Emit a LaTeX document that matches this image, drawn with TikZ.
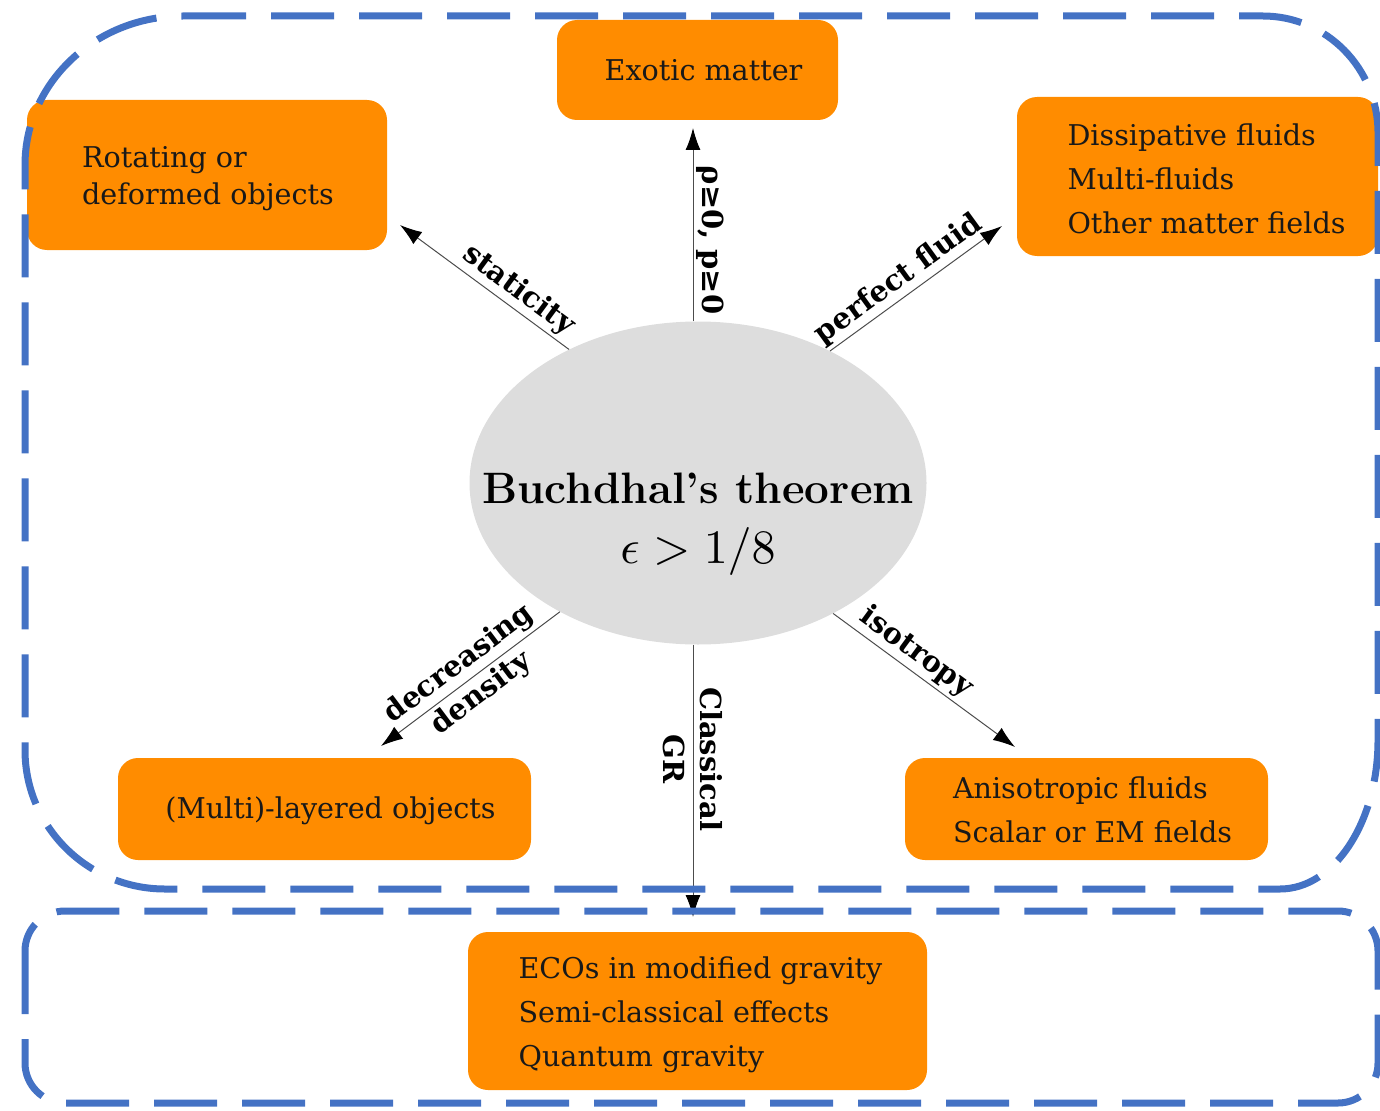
\documentclass[tikz,border=0pt]{standalone}
\usepackage{fontspec}
\newfontfamily\dv{DejaVu Serif}
\usetikzlibrary{arrows.meta,shapes.geometric,calc}
\definecolor{boxorange}{HTML}{FF8C00}
\definecolor{frameblue}{HTML}{4472C4}
\definecolor{ellgray}{HTML}{DDDDDD}
\begin{document}
\begin{tikzpicture}[x=1pt,y=-1pt,
  obox/.style={fill=boxorange, rounded corners=20pt, inner sep=0pt},
  btxt/.style={inner sep=0pt, align=left, font=\dv\fontsize{28.6}{44}\selectfont, text=black!90},
  frame/.style={draw=frameblue, line width=7pt, dash pattern=on 63pt off 25pt},
  arr/.style={draw=black!70, line width=1pt, -{Latex[length=22pt,width=15pt,black]}},
  lab/.style={font=\dv\bfseries\fontsize{29}{37}\selectfont, inner sep=3pt, align=center, text=black},
]
\useasboundingbox (0,0) rectangle (1380,1110);

% boxes
\node[obox, minimum width=281pt, minimum height=100pt] (exotic) at (697.5,70) {};
\node[obox, minimum width=360pt, minimum height=150pt] (rot) at (207,175) {};
\node[obox, minimum width=361pt, minimum height=159pt] (diss) at (1197.5,176.5) {};
\node[obox, minimum width=413pt, minimum height=102pt] (multi) at (324.5,809) {};
\node[obox, minimum width=363pt, minimum height=102pt] (aniso) at (1086.5,809) {};
\node[obox, minimum width=459pt, minimum height=158pt] (eco) at (697.5,1011) {};

% box texts
\node[btxt, xshift=6pt] (exotict) at (exotic) {Exotic matter};
\node[btxt, font=\dv\fontsize{28.6}{37}\selectfont, yshift=-4pt, xshift=1pt] (rott) at (rot) {Rotating or\\deformed objects};
\node[btxt, xshift=9pt, yshift=-2pt] (disst) at (diss) {Dissipative fluids\\Multi-fluids\\Other matter fields};
\node[btxt, xshift=6pt, yshift=-2pt] (multit) at (multi) {(Multi)-layered objects};
\node[btxt, xshift=6pt, yshift=-1pt] (anisot) at (aniso) {Anisotropic fluids\\Scalar or EM fields};
\node[btxt, xshift=3pt, yshift=-3.5pt] (ecot) at (eco) {ECOs in modified gravity\\Semi-classical effects\\Quantum gravity};

% central ellipse
\node[ellipse, fill=ellgray, minimum width=457pt, minimum height=323pt, inner sep=0pt] (ell) at (698,483) {};
\node[anchor=base, inner sep=0pt, font=\bfseries\fontsize{44}{52}\selectfont] (thm) at (698,503) {Buchdhal's theorem};
\node[anchor=base, inner sep=0pt, scale=4.8] (cond) at (698,563) {$\epsilon > 1/8$};

% arrow tips
\coordinate (tU) at (693,128);
\coordinate (tS) at (400,225);
\coordinate (tP) at (1002,226);
\coordinate (tD) at (381,746);
\coordinate (tI) at (1015,747);
\coordinate (tC) at (693,917);

\draw[arr] (ell.north -| tU) -- node[lab, pos=0.42, rotate=-90, anchor=south] {ρ≥0, p≥0} (tU);
\draw[arr] (ell.134) -- node[lab, sloped, above, pos=0.36] {staticity} (tS);
\draw[arr] (ell.45) -- node[lab, sloped, above, pos=0.46] {perfect fluid} (tP);
\draw[arr] (ell.223) -- node[lab, sloped, pos=0.5] {decreasing\\density} (tD);
\draw[arr] (ell.316) -- node[lab, sloped, above, pos=0.40] {isotropy} (tI);
\draw[arr] (ell.south -| tC) -- node[lab, pos=0.42, rotate=-90] {Classical\\GR} (tC);

% dashed frames
\draw[frame] (183,16) -- (1263,16) .. controls (1326.5,16) and (1378,68.4) .. (1378,133)
  -- (1378,740) .. controls (1378,822.3) and (1334.1,889) .. (1280,889)
  -- (165,889) .. controls (87.7,889) and (25,826.8) .. (25,750)
  -- (25,165) .. controls (25,82.7) and (95.7,16) .. (183,16) -- cycle;
\draw[frame, rounded corners=40pt] (25,911) rectangle (1378,1103);
\end{tikzpicture}
\end{document}
